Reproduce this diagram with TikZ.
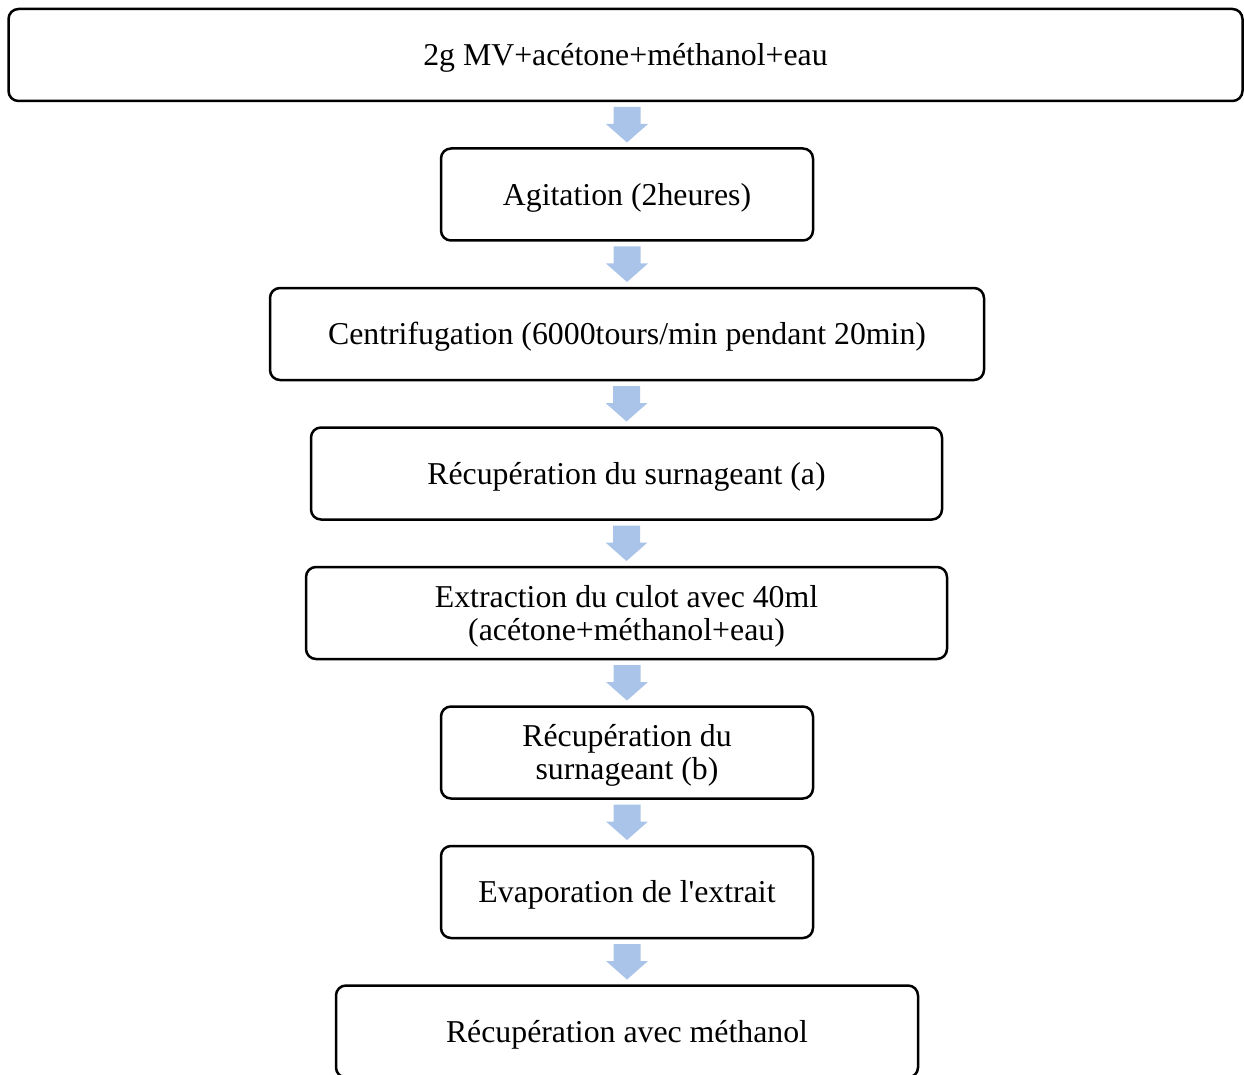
\documentclass[tikz,border=0pt]{standalone}
\usepackage{fontspec}
\newfontfamily\boxfont{Liberation Serif}
\usetikzlibrary{calc}
\definecolor{arrowblue}{RGB}{170,196,233}
\tikzset{
  stepbox/.style={draw=black, line width=2.5pt, rounded corners=10pt,
    minimum height=92pt, inner sep=0pt, outer sep=0pt, align=center,
    font=\boxfont\fontsize{31.8pt}{33pt}\selectfont},
  oneline/.style={stepbox, text height=28pt, text depth=6.8pt},
  twolines/.style={stepbox, text height=61pt, text depth=6.8pt},
  flowarrow/.style={fill=arrowblue},
}
% block arrow pointing down from the bottom of #1 to the top of #2
\newcommand{\blockarrow}[2]{%
  \fill[flowarrow] let \p1=(#1.south), \p2=(#2.north) in
    (\x2-13.5pt,\y1-6pt) -- (\x2+13.5pt,\y1-6pt) -- (\x2+13.5pt,\y1-23pt)
    -- (\x2+21pt,\y1-23pt) -- (\x2,\y2+6pt) -- (\x2-21pt,\y1-23pt)
    -- (\x2-13.5pt,\y1-23pt) -- cycle;}
\begin{document}
\begin{tikzpicture}[x=1pt,y=-1pt]
\clip (0,0) rectangle (1244,1075);
\node[oneline, minimum width=1234pt] (s1) at (625.5,55) {2g MV+acétone+méthanol+eau};
\node[oneline, minimum width=372pt] (s2) at (627,194.5) {Agitation (2heures)};
\node[oneline, minimum width=714pt] (s3) at (627,334) {Centrifugation (6000tours/min pendant 20min)};
\node[oneline, minimum width=631pt] (s4) at (626.5,473.5) {Récupération du surnageant (a)};
\node[twolines, minimum width=641pt] (s5) at (626.5,613) {Extraction du culot avec 40ml\\(acétone+méthanol+eau)};
\node[twolines, minimum width=372pt] (s6) at (627,752.5) {Récupération du\\surnageant (b)};
\node[oneline, minimum width=372pt] (s7) at (627,892) {Evaporation de l'extrait};
\node[oneline, minimum width=582pt] (s8) at (627,1031.5) {Récupération avec méthanol};
\blockarrow{s1}{s2}
\blockarrow{s2}{s3}
\blockarrow{s3}{s4}
\blockarrow{s4}{s5}
\blockarrow{s5}{s6}
\blockarrow{s6}{s7}
\blockarrow{s7}{s8}
\end{tikzpicture}
\end{document}
